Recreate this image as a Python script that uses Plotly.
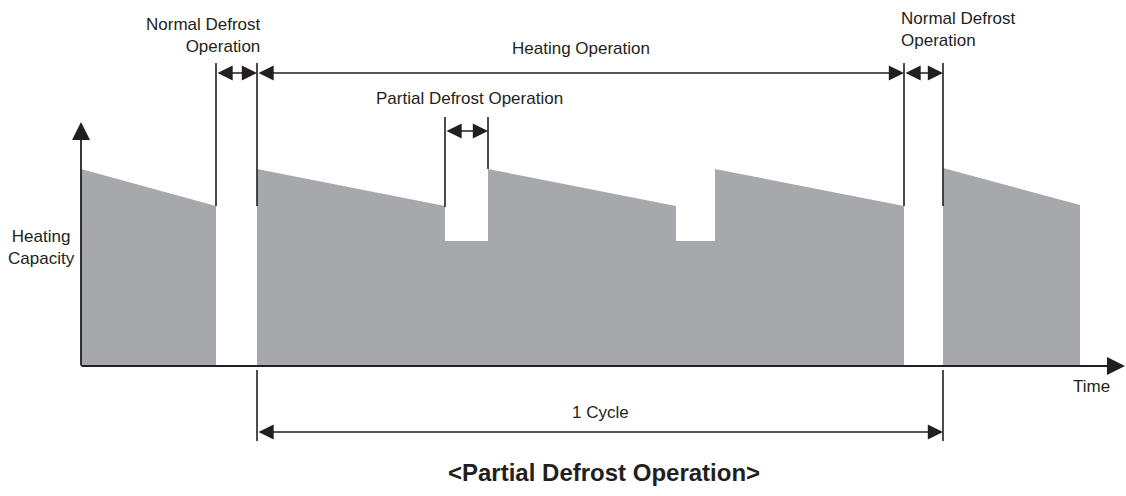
import plotly.graph_objects as go

# ---- data (schematic time / capacity units) ----
heat_start = [0.0, 17.6, 40.7, 63.4, 86.2]       # start of each heating run
heat_end = [13.5, 36.4, 59.5, 82.3, 99.9]        # end of each heating run
cap_start = [19.7, 19.7, 19.7, 19.7, 19.8]       # capacity at start of run
cap_end = [16.0, 16.0, 16.0, 16.0, 16.1]         # capacity at end of run
partial_defrost_cap = 12.5                        # capacity kept during partial defrost
normal_defrost = [(13.5, 17.6), (82.3, 86.2)]    # normal defrost intervals
partial_defrost = [(36.4, 40.7), (59.5, 63.4)]   # partial defrost intervals
cycle = (17.6, 86.2)
heating_operation = (17.6, 82.3)

INK = "#231f20"
GRAY = "#a7a8ab"
FONT = "Liberation Sans, Arial, sans-serif"

fig = go.Figure()

# group heating runs into blocks separated by normal defrost
blocks = [[0], [1, 2, 3], [4]]
for blk in blocks:
    xs, ys = [heat_start[blk[0]]], [0]
    for k, i in enumerate(blk):
        xs += [heat_start[i], heat_end[i]]
        ys += [cap_start[i], cap_end[i]]
        if k < len(blk) - 1:
            xs += [heat_end[i], heat_start[blk[k + 1]]]
            ys += [partial_defrost_cap, partial_defrost_cap]
    xs += [heat_end[blk[-1]], heat_start[blk[0]]]
    ys += [0, 0]
    fig.add_trace(go.Scatter(x=xs, y=ys, fill="toself", fillcolor=GRAY,
                             mode="lines", line=dict(width=0, color=GRAY),
                             hoverinfo="skip", showlegend=False))

shapes = []
def vline(x, y0, y1, w=1.6):
    shapes.append(dict(type="line", xref="x", yref="y", x0=x, x1=x, y0=y0, y1=y1,
                       line=dict(color=INK, width=w)))

TOP = 30.3
# normal defrost boundaries
vline(normal_defrost[0][0], cap_end[0], TOP)
vline(normal_defrost[0][1], cap_end[0], TOP)
vline(normal_defrost[1][0], cap_end[3], TOP)
vline(normal_defrost[1][1], cap_end[3], TOP)
# partial defrost boundaries
vline(partial_defrost[0][0], cap_end[1] - 0.1, 24.9)
vline(partial_defrost[0][1], cap_start[2], 24.9)
# cycle boundaries
vline(cycle[0], -0.4, -7.5)
vline(cycle[1], -0.4, -7.5)

annotations = []
def dim_arrow(x0, x1, y, size=1.9, w=1.6):
    annotations.append(dict(x=x1, y=y, ax=x0, ay=y, xref="x", yref="y", axref="x", ayref="y",
                            text="", showarrow=True, arrowhead=2, startarrowhead=2,
                            arrowside="end+start", arrowsize=size, startarrowsize=size,
                            arrowwidth=w, arrowcolor=INK, standoff=0, startstandoff=0))

dim_arrow(*normal_defrost[0], 29.3)
dim_arrow(*normal_defrost[1], 29.3)
dim_arrow(*heating_operation, 29.3)
dim_arrow(*partial_defrost[0], 23.5)
dim_arrow(*cycle, -6.6)

# axes arrows
annotations.append(dict(x=104.4, y=0, ax=-0.1, ay=0, xref="x", yref="y", axref="x", ayref="y",
                        text="", showarrow=True, arrowhead=2, arrowsize=1.8, arrowwidth=2,
                        arrowcolor=INK, standoff=0))
annotations.append(dict(x=0, y=24.4, ax=0, ay=-0.1, xref="x", yref="y", axref="x", ayref="y",
                        text="", showarrow=True, arrowhead=2, arrowsize=2.0, arrowwidth=1.8,
                        arrowcolor=INK, standoff=0))

def label(text, x, y, xanchor="center", align="center", size=17):
    annotations.append(dict(x=x, y=y, xref="x", yref="y", text=text, showarrow=False,
                            xanchor=xanchor, yanchor="middle", align=align,
                            font=dict(family=FONT, size=size, color=INK)))

label("Normal Defrost<br>Operation", 18.2, 33.1, xanchor="right", align="right")
label("Normal Defrost<br>Operation", 81.8, 33.7, xanchor="left", align="left")
label("Heating Operation", 50.0, 31.8)
label("Partial Defrost Operation", 38.8, 26.8)
label("Heating<br>Capacity", -4.0, 11.85)
label("Time", 101.0, -2.0)
label("1 Cycle", 51.9, -4.6)
label("<b>&lt;Partial Defrost Operation&gt;</b>", 52.3, -10.6, size=24)

fig.update_layout(
    width=1126, height=496,
    margin=dict(l=0, r=0, t=0, b=0),
    paper_bgcolor="white", plot_bgcolor="white",
    xaxis=dict(range=[-8.1, 104.5], visible=False, fixedrange=True),
    yaxis=dict(range=[-13.0, 36.6], visible=False, fixedrange=True),
    shapes=shapes, annotations=annotations, showlegend=False,
)

fig.write_html("out.html", config={"displayModeBar": False},
               post_script="document.body.style.margin='0';document.body.style.padding='0';"
                           "document.body.style.overflow='hidden';")
